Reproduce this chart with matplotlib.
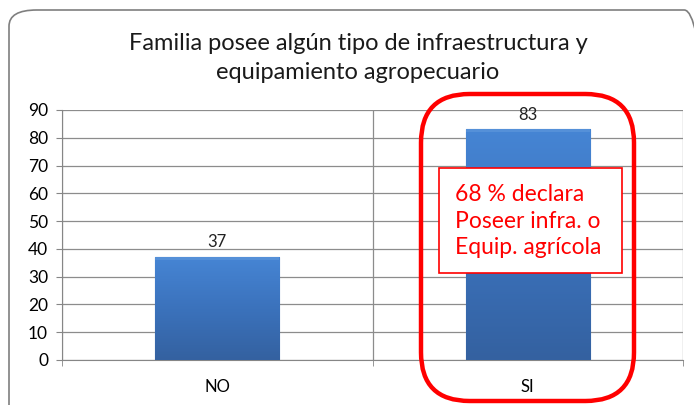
import numpy as np
import matplotlib.pyplot as plt
from matplotlib.patches import FancyBboxPatch, Rectangle
from matplotlib.colors import LinearSegmentedColormap

categories = ['NO', 'SI']
values = [37, 83]
title = 'Familia posee algún tipo de infraestructura y\nequipamiento agropecuario'
note = '68 % declara\nPoseer infra. o\nEquip. agrícola'
yticks = list(range(0, 100, 10))

plt.rcParams['font.family'] = ['Lato', 'DejaVu Sans']

W, H = 694, 405
fig = plt.figure(figsize=(W / 100, H / 100), dpi=100)

def px(x, y):
    # pixel coords (from top-left) -> figure fraction
    return x / W, 1 - y / H

# outer chart border
x0, y0 = px(9, 430)
x1, y1 = px(712, 10)
fig.patches.append(FancyBboxPatch((x0, y0), x1 - x0, y1 - y0,
                                  boxstyle='round,pad=0,rounding_size=0.04',
                                  transform=fig.transFigure, fill=False,
                                  edgecolor='#7f7f7f', linewidth=1.2))

ax = fig.add_axes([62 / W, 1 - 360 / H, 621 / W, 250 / H])
x = np.arange(len(categories))
bars = ax.bar(x, values, width=0.4, color='#3d74bf', edgecolor='#3465a8',
              linewidth=0.8, zorder=3)

# vertical gradient on each bar
grad = np.linspace(0, 1, 256).reshape(-1, 1)
cmap = LinearSegmentedColormap.from_list('bar', ['#3461a0', '#3b72bc', '#4685d4'])
for b in bars:
    bx, by, bw, bh = b.get_x(), b.get_y(), b.get_width(), b.get_height()
    im = ax.imshow(grad, extent=(bx, bx + bw, by, by + bh), origin='lower',
                   aspect='auto', cmap=cmap, zorder=3.1)
    im.set_clip_path(b)
    ax.add_patch(Rectangle((bx, by + bh - 0.9), bw, 0.9, facecolor='#5590d8',
                           edgecolor='none', zorder=3.2))

for xi, v in zip(x, values):
    ax.text(xi, v + 2.5, str(v), ha='center', va='bottom', fontsize=12,
            color='#222222', zorder=4)

ax.set_xlim(-0.5, 1.5)
ax.set_ylim(0, 90)
ax.set_yticks(yticks)
ax.set_xticks(x)
ax.set_xticklabels(categories, fontsize=12)
ax.set_xticks([-0.5, 0.5, 1.5], minor=True)
ax.tick_params(axis='y', labelsize=12.5, length=4, color='#868686', pad=6)
ax.tick_params(axis='x', which='major', length=0, pad=14)
ax.tick_params(axis='x', which='minor', length=4, color='#868686')
ax.grid(axis='y', color='#8c8c8c', linewidth=0.9, zorder=0)
ax.grid(axis='x', which='minor', color='#8c8c8c', linewidth=0.9, zorder=0)
for s in ['top', 'right']:
    ax.spines[s].set_visible(False)
for s in ['left', 'bottom']:
    ax.spines[s].set_color('#868686')

fig.text(358 / W, 1 - 58 / H, title, ha='center', va='center', fontsize=17,
         linespacing=1.45, color='#1a1a1a')

# red highlight around SI
rx0, ry0 = px(421, 401)
rx1, ry1 = px(634, 94)
fig.patches.append(FancyBboxPatch((rx0, ry0), rx1 - rx0, ry1 - ry0,
                                  boxstyle='round,pad=0,rounding_size=0.07',
                                  transform=fig.transFigure, fill=False,
                                  edgecolor='#ff0000', linewidth=3.2, zorder=10,
                                  mutation_aspect=W / H))

# note box
bx0, by0 = px(439, 273)
bx1, by1 = px(622, 168)
fig.patches.append(Rectangle((bx0, by0), bx1 - bx0, by1 - by0,
                             transform=fig.transFigure, facecolor='white',
                             edgecolor='#ff0000', linewidth=1.2, zorder=11))
fig.text(455 / W, 1 - 221 / H, note, ha='left', va='center', fontsize=16.5,
         color='#ff0000', linespacing=1.3, zorder=12)

fig.savefig('out.png', dpi=100)
